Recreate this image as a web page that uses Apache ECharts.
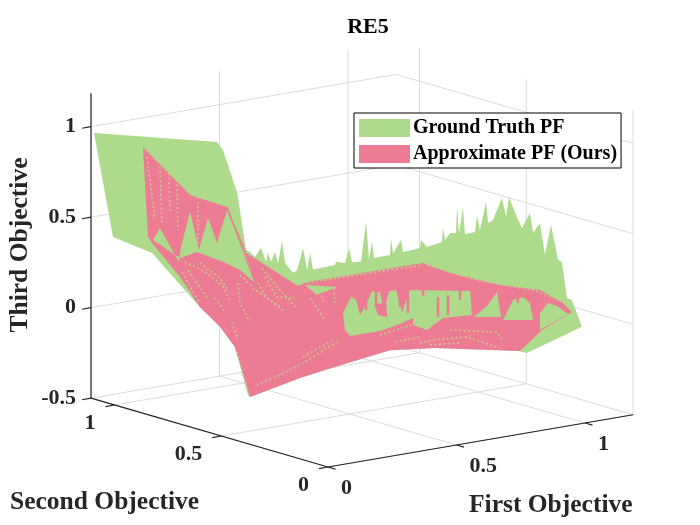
<!DOCTYPE html>
<html>
<head>
<meta charset="utf-8">
<style>html,body{margin:0;padding:0;background:#fff}#main{width:700px;height:525px}</style>
<script src="https://cdn.jsdelivr.net/npm/echarts@6/dist/echarts.min.js"></script>
</head>
<body>
<div id="main"></div>
<script>
var firstTicks = [0, 0.5, 1];
var secondTicks = [0, 0.5, 1];
var thirdTicks = [-0.5, 0, 0.5, 1];
var firstLimits = [0, 1.187];
var secondLimits = [0, 1.11];
var thirdLimits = [-0.5, 1.185];

// every vertex is [first, second, third]
var groundTruthOutline = [
	[0,1.096,.970],[0,.520,1.118],[0,.492,1.083],[0,.426,.873],[0,.384,.567],[0,.365,.563],[0,.342,.543],[0,.314,.603],
	[0,.290,.534],[0,.281,.586],[0,.267,.542],[0,.248,.603],[0,.234,.547],[0,.215,.675],[0,.201,.558],[0,.164,.516],
	[0,.145,.538],[0,.117,.670],[0,.098,.554],[0,.084,.653],[0,.070,.564],
	[.027,0,.609],[.031,0,.625],[.066,0,.611],[.082,0,.690],[.093,0,.610],[.128,0,.602],[.148,0,.818],[.160,0,.605],
	[.171,0,.701],[.179,0,.611],[.241,0,.612],[.245,0,.705],[.253,0,.616],[.284,0,.685],[.292,0,.617],[.358,0,.623],
	[.362,0,.666],[.385,0,.622],[.444,0,.635],[.447,0,.717],[.455,0,.643],[.475,0,.678],[.498,0,.672],[.502,0,.815],
	[.510,0,.669],[.525,0,.809],[.533,0,.657],[.572,0,.659],[.580,0,.751],[.591,0,.665],[.615,0,.815],[.623,0,.697],
	[.642,0,.709],[.677,0,.821],[.693,0,.713],[.704,0,.821],[.735,0,.702],[.755,0,.636],[.786,0,.712],[.798,0,.599],
	[.825,0,.647],[.844,0,.466],[.868,0,.626],[.895,0,.426],[.910,0,.412],[.930,0,.208],[.949,0,.192],[.988,0,.034],
	[.774,0,-.058],[.739,0,-.039],[.416,0,.056],[.241,0,.087],[0,0,.041],
	[0,.131,-.053],[0,.365,-.238],[0,.375,-.230],[0,.436,.014],[0,.506,.101],[0,.600,.179],[0,.679,.256],[0,.824,.400],[0,1.007,.426]
];
var approxOutline = [
	[0,.867,.971],[0,.646,.782],[0,.473,.775],[0,.389,.555],[0,.141,.452],[0,.098,.488],
	[.086,0,.540],[.370,0,.537],[.475,0,.457],[.669,0,.343],[.825,0,.277],[.914,0,.184],[.949,0,.125],[.833,0,.055],
	[.747,0,-.041],[.416,0,.056],[.241,0,.087],[0,0,.041],
	[0,.131,-.053],[0,.365,-.238],[0,.436,.014],[0,.506,.101],[0,.600,.179],[0,.693,.313],[0,.824,.456],[0,.843,.482]
];
// places where the ground truth shows through the approximate front
var approxHoles = [
	[[0,.820,.473],[0,.787,.551],[0,.698,.394],[0,.689,.480],[0,.646,.688],[0,.604,.492],[0,.562,.684],[0,.520,.560],[0,.473,.758],
	 [0,.389,.555],[0,.342,.400],[0,.412,.447],[0,.492,.465],[0,.614,.478],[0,.693,.418]],
	[[.066,0,.241],[.058,0,.337],[.089,0,.417],[.109,0,.397],[.125,0,.310],[.156,0,.385],[.171,0,.430],[.202,0,.418],[.218,0,.303],
	 [.237,0,.414],[.265,0,.414],[.288,0,.286],[.319,0,.400],[.553,0,.338],[.560,0,.204],[.447,0,.214],[.331,0,.243],[.280,0,.222],[.202,0,.202],[.086,0,.203]],
	[[.331,0,.243],[.447,0,.214],[.385,0,.163],[.331,0,.205]],
	[[.568,0,.191],[.619,0,.240],[.658,0,.307],[.673,0,.165]],
	[[.681,0,.146],[.720,0,.248],[.759,0,.255],[.786,0,.215],[.798,0,.118]],
	[[.825,0,.056],[.825,0,.150],[.856,0,.198],[.891,0,.173],[.934,0,.118]],
	[[0,.108,.469],[0,.052,.432],[.035,0,.486]]
];
var approxSeams = [
	[[0,.473,.775],[0,.342,.400]],
	[[0,.468,.749],[0,.384,.556]]
];
// pink tongues hanging into the largest opening
var approxFingers = [
	[[.148,0,.447],[.148,0,.331]],
	[[.187,0,.438],[.187,0,.350]],
	[[.222,0,.429],[.222,0,.352]],
	[[.280,0,.415],[.280,0,.316]],
	[[.311,0,.407],[.311,0,.275]],
	[[.370,0,.393],[.370,0,.355]],
	[[.428,0,.335],[.428,0,.225]],
	[[.467,0,.336],[.467,0,.226]],
	[[.514,0,.358],[.514,0,.298]],
	[[.689,0,.311],[.689,0,.228]],
	[[.739,0,.292],[.739,0,.226]]
];
var approxLump = [[.179,0,.357],[.226,0,.351],[.230,0,.273],[.195,0,.293]];
var speckleRuns = [
	[[0,.848,.923],[0,.810,.588]],
	[[0,.787,.889],[0,.778,.582]],
	[[0,.745,.869],[0,.740,.650]],
	[[0,.707,.844],[0,.703,.568]],
	[[0,.609,.783],[0,.609,.507]],
	[[0,.670,.404],[0,.576,.380],[0,.496,.336],[0,.459,.266]],
	[[0,.684,.343],[0,.637,.260],[0,.600,.201]],
	[[0,.529,.253],[0,.482,.191]],
	[[0,.412,.420],[0,.342,.361],[0,.272,.330],[0,.201,.287]],
	[[0,.309,.493],[0,.234,.409],[0,.145,.328]],
	[[0,.407,.255],[0,.365,.176]],
	[[0,.333,-.161],[0,.225,-.069],[0,.131,.019],[.035,0,.182]],
	[[0,.426,-.011],[0,.375,-.214]],
	[[0,.098,.483],[.086,0,.534],[.370,0,.526]],
	[[.385,0,.522],[.580,0,.392],[.798,0,.284],[.930,0,.180]],
	[[.358,0,.098],[.409,0,.103],[.541,0,.087],[.669,0,-.006]],
	[[.202,0,.180],[.358,0,.214]],
	[[0,.117,.068],[.019,0,.197]],
	[[0,.084,.405],[0,.014,.307]],
	[[0,.656,.363],[0,.614,.307],[0,.567,.245]],
	[[0,.600,.422],[0,.506,.371],[0,.468,.318]],
	[[0,.422,.373],[0,.412,.265]],
	[[0,.328,.405],[0,.286,.336],[0,.215,.304]],
	[[0,.295,.449],[0,.239,.357],[0,.155,.381]],
	[[0,.450,.147],[0,.422,.058]],
	[[0,.037,.459],[0,.019,.400]],
	[[.023,0,.483],[.027,0,.399]],
	[[.475,0,.142],[.560,0,.115],[.658,0,.086],[.681,0,.025]],
	[[.261,0,.128],[.358,0,.131]],
	[[.397,0,.078],[.514,0,.060]]
];

var GREEN = '#ADDB8B';
var PINK = '#EC7B93';
var SPECKLE = '#C9C98A';
var GRIDLINE = '#DCDCDC';
var AXISLINE = '#262626';
var SERIF = '"Liberation Serif", "Times New Roman", serif';

// fixed MATLAB style view of the 3D box onto the page
function project(p) {
	var t = p[2] - thirdLimits[0];
	return [328 + 257 * p[0] - 213.5 * p[1], 467 - 44 * p[0] - 62 * p[1] - 181 * t];
}

function polygonItem(points, api, style) {
	return {
		type: 'polygon',
		shape: { points: points.map(function (p) { return api.coord(project(p)); }) },
		style: style
	};
}

function lineItem(points, api, style) {
	return {
		type: 'polyline',
		shape: { points: points.map(function (p) { return api.coord(project(p)); }) },
		style: style
	};
}

// back walls and floor
var gridSegments = [];
var f0 = firstLimits[0], f1 = firstLimits[1], s0 = secondLimits[0], s1 = secondLimits[1], z0 = thirdLimits[0], z1 = thirdLimits[1];
firstTicks.forEach(function (f) {
	gridSegments.push([[f, s0, z0], [f, s1, z0]]);
	gridSegments.push([[f, s1, z0], [f, s1, z1]]);
});
secondTicks.forEach(function (s) {
	gridSegments.push([[f0, s, z0], [f1, s, z0]]);
	gridSegments.push([[f1, s, z0], [f1, s, z1]]);
});
thirdTicks.forEach(function (z) {
	gridSegments.push([[f0, s1, z], [f1, s1, z]]);
	gridSegments.push([[f1, s1, z], [f1, s0, z]]);
});

var axisSegments = [
	[[f0, s1, z0], [f0, s1, z1]],
	[[f0, s1, z0], [f0, s0, z0]],
	[[f0, s0, z0], [f1, s0, z0]]
];
thirdTicks.forEach(function (z) { axisSegments.push([[f0, s1, z], [f0 - 0.035, s1, z]]); });
secondTicks.forEach(function (s) { axisSegments.push([[f0, s, z0], [f0 - 0.035, s, z0]]); });
firstTicks.forEach(function (f) { axisSegments.push([[f, s0, z0], [f, s0 - 0.035, z0]]); });

function linesSeries(segments, color, width, z, dash) {
	return {
		type: 'custom',
		silent: true,
		clip: false,
		z: z,
		data: segments.map(function (d, i) { return [i]; }),
		renderItem: function (params, api) {
			return lineItem(segments[api.value(0)], api, { stroke: color, lineWidth: width, fill: null, lineDash: dash || null });
		}
	};
}

function tickLabelSeries(labels, anchor, dx, dy, align) {
	return {
		type: 'custom',
		silent: true,
		clip: false,
		z: 6,
		data: labels.map(function (d, i) { return [i]; }),
		renderItem: function (params, api) {
			var v = labels[api.value(0)];
			var c = api.coord(project(anchor(v)));
			return {
				type: 'text',
				style: {
					x: c[0] + dx, y: c[1] + dy, text: String(v), align: align, verticalAlign: 'middle',
					font: 'bold 22px ' + SERIF, fill: AXISLINE
				}
			};
		}
	};
}

var chart = echarts.init(document.getElementById('main'));
chart.setOption({
	animation: false,
	backgroundColor: '#fff',
	title: {
		text: 'RE5',
		left: 363,
		top: 11,
		textAlign: 'center',
		textStyle: { fontFamily: SERIF, fontSize: 22, fontWeight: 'bold', color: '#000' }
	},
	legend: {
		left: 354,
		top: 113,
		orient: 'vertical',
		data: [
			{ name: 'Ground Truth PF', itemStyle: { color: GREEN } },
			{ name: 'Approximate PF (Ours)', itemStyle: { color: PINK } }
		],
		icon: 'rect',
		itemWidth: 51,
		itemHeight: 18,
		itemGap: 6,
		padding: [5, 4, 4, 5],
		backgroundColor: '#fff',
		borderColor: '#000',
		borderWidth: 1,
		borderRadius: 0,
		selectedMode: false,
		textStyle: { fontFamily: SERIF, fontSize: 20, fontWeight: 'bold', color: '#000', padding: [0, 0, 0, -2] },
		z: 20
	},
	grid: { left: 0, right: 0, top: 0, bottom: 0 },
	xAxis: { type: 'value', min: 0, max: 700, show: false },
	yAxis: { type: 'value', min: 0, max: 525, inverse: true, show: false },
	graphic: [
		{ type: 'text', left: 10, top: 489, style: { text: 'Second Objective', font: 'bold 25.5px ' + SERIF, fill: AXISLINE } },
		{ type: 'text', left: 469, top: 492, style: { text: 'First Objective', font: 'bold 25.5px ' + SERIF, fill: AXISLINE } },
		{ type: 'text', x: 20, y: 245, rotation: Math.PI / 2, style: { text: 'Third Objective', align: 'center', verticalAlign: 'middle', font: 'bold 25.5px ' + SERIF, fill: AXISLINE } }
	],
	series: [
		linesSeries(gridSegments, GRIDLINE, 1, 1),
		linesSeries(axisSegments, AXISLINE, 1.2, 5),
		{
			name: 'Ground Truth PF',
			type: 'custom',
			clip: false,
			silent: true,
			z: 2,
			itemStyle: { color: GREEN },
			data: [[0]],
			renderItem: function (params, api) {
				return polygonItem(groundTruthOutline, api, { fill: GREEN });
			}
		},
		{
			name: 'Approximate PF (Ours)',
			type: 'custom',
			clip: false,
			silent: true,
			z: 3,
			itemStyle: { color: PINK },
			data: [[0]],
			renderItem: function (params, api) {
				return polygonItem(approxOutline, api, { fill: PINK });
			}
		},
		{
			type: 'custom',
			clip: false,
			silent: true,
			z: 4,
			data: approxHoles.map(function (d, i) { return [i]; }),
			renderItem: function (params, api) {
				return polygonItem(approxHoles[api.value(0)], api, { fill: GREEN });
			}
		},
		linesSeries(approxSeams, PINK, 1.2, 4),
		linesSeries(approxFingers, PINK, 2.4, 4),
		{
			type: 'custom',
			clip: false,
			silent: true,
			z: 4,
			data: [[0]],
			renderItem: function (params, api) {
				return polygonItem(approxLump, api, { fill: PINK });
			}
		},
		linesSeries(speckleRuns, SPECKLE, 1.6, 4, [2, 2.5]),
		tickLabelSeries(thirdTicks, function (v) { return [f0, s1, v]; }, -15, 0, 'right'),
		tickLabelSeries(secondTicks, function (v) { return [f0, v, z0]; }, -19, 18, 'right'),
		tickLabelSeries(firstTicks, function (v) { return [v, s0, z0]; }, 13, 21, 'left')
	]
});
</script>
</body>
</html>
